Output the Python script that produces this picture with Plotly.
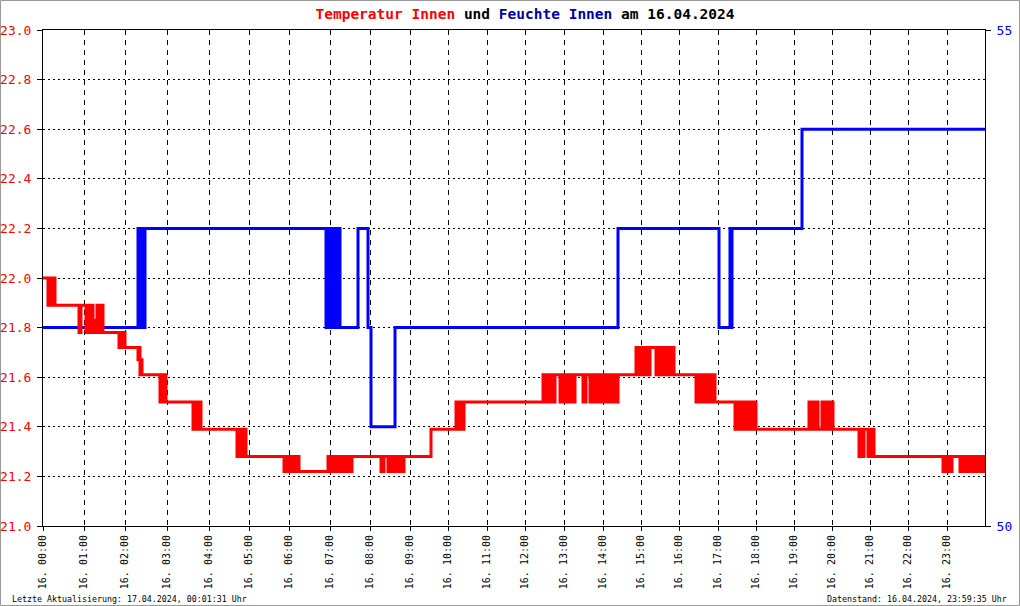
import plotly.graph_objects as go

# ---------------- data ----------------
# x axis: running sample number of the logger (the original chart is sample based)
hour_labels = ["16. %02d:00" % h for h in range(24)]
hour_samples = [0, 41, 82, 124, 166, 206, 246, 287, 327, 367, 405, 444,
                482, 521, 560, 598, 636, 675, 713, 751, 789, 827, 865, 904]
last_sample = 942

# Temperature Innen (deg C), step changes: sample -> value
temp_x = [0,
          5, 6, 7, 8, 10, 11, 12,
          36, 38,
          43, 44, 45, 46, 47, 49, 50, 51, 52, 54, 55, 56, 57, 58, 59, 60,
          76, 77, 78, 79, 80, 81, 82,
          95, 96, 97, 98, 99,
          117, 118, 119, 120, 121, 122, 123,
          150, 151, 152, 153, 154, 155, 156, 157, 158,
          194, 195, 196, 197, 198, 199, 200, 201, 203,
          241, 242, 243, 244, 246, 247, 248, 249, 250, 252, 253, 254, 256,
          285, 286, 287, 288, 289, 290, 291, 292, 293, 294, 295, 297, 298, 299, 300,
          302, 303, 304, 305, 306, 307, 308, 309,
          338, 339, 340, 341, 345, 346, 347, 348, 349, 350, 352, 353, 354, 355,
          356, 357, 358, 359, 360, 361,
          388,
          413, 414, 415, 416, 417, 418, 419, 420, 421,
          500, 501, 502, 503, 504, 505, 506, 507, 508, 509, 510, 511, 512,
          517, 518, 519, 520, 521, 522, 523, 524, 525, 526, 527, 528, 529, 530, 531, 532,
          540, 541, 542, 543, 547, 548, 549, 550, 551, 552,
          555, 556, 557, 558, 559, 560, 561, 562, 563, 564,
          566, 567, 568, 569, 570, 571, 572, 573, 574, 575,
          593, 594, 595, 596, 597, 598, 599, 600, 601, 602, 603, 604, 605, 606, 607,
          613, 614, 615, 616, 617, 618, 619, 620, 621, 622, 623, 624, 625, 626, 627,
          628, 629, 630, 631,
          653, 654, 655, 656, 658, 659, 661, 662, 664, 665, 666, 667, 668, 669, 670,
          671, 672,
          692, 693, 695, 696, 697, 698, 699, 700, 701, 702, 703, 704, 705, 706, 707,
          708, 709, 710, 711, 712, 713,
          766, 767, 768, 769, 770, 771, 772, 773, 774, 775,
          779, 780, 781, 782, 783, 784, 785, 786, 787, 788, 789, 790,
          816, 817, 818, 819, 820, 821, 825, 826, 827, 828, 829, 830, 831,
          900, 901, 902, 903, 904, 905, 906, 907, 908, 909,
          917, 918, 920, 921, 922, 923, 925, 926, 927, 928, 930, 931, 932, 933,
          935, 936, 937, 938, 939, 940, 941, 942]
temp_y = [22.00,
          21.89, 22.00, 21.89, 22.00, 21.89, 22.00, 21.89,
          21.78, 21.89,
          21.78, 21.89, 21.78, 21.89, 21.78, 21.89, 21.78, 21.83, 21.78, 21.89, 21.78,
          21.83, 21.89, 21.78, 21.89, 21.78,
          21.72, 21.78, 21.72, 21.78, 21.72, 21.78, 21.72,
          21.67, 21.72, 21.61, 21.67, 21.61,
          21.50, 21.61, 21.50, 21.61, 21.50, 21.61, 21.50,
          21.39, 21.50, 21.39, 21.50, 21.39, 21.50, 21.39, 21.50, 21.39,
          21.28, 21.39, 21.28, 21.39, 21.28, 21.39, 21.28, 21.39, 21.28,
          21.22, 21.28, 21.22, 21.28, 21.22, 21.28, 21.22, 21.28, 21.22, 21.28, 21.22,
          21.28, 21.22,
          21.28, 21.22, 21.28, 21.22, 21.28, 21.22, 21.28, 21.22, 21.28, 21.22, 21.28,
          21.22, 21.28, 21.22, 21.28,
          21.22, 21.28, 21.22, 21.28, 21.22, 21.28, 21.22, 21.28,
          21.22, 21.28, 21.22, 21.28, 21.22, 21.28, 21.22, 21.28, 21.22, 21.28, 21.22,
          21.28, 21.22, 21.28,
          21.22, 21.28, 21.22, 21.28, 21.22, 21.28,
          21.39,
          21.50, 21.39, 21.50, 21.39, 21.50, 21.39, 21.50, 21.39, 21.50,
          21.61, 21.50, 21.61, 21.50, 21.61, 21.50, 21.61, 21.50, 21.61, 21.50, 21.61,
          21.50, 21.61,
          21.50, 21.61, 21.50, 21.61, 21.50, 21.61, 21.50, 21.61, 21.50, 21.61, 21.50,
          21.61, 21.50, 21.61, 21.50, 21.61,
          21.50, 21.61, 21.50, 21.61, 21.50, 21.61, 21.50, 21.61, 21.50, 21.61,
          21.50, 21.61, 21.50, 21.61, 21.50, 21.61, 21.50, 21.61, 21.50, 21.61,
          21.50, 21.61, 21.50, 21.61, 21.50, 21.61, 21.50, 21.61, 21.50, 21.61,
          21.72, 21.61, 21.72, 21.61, 21.72, 21.61, 21.72, 21.61, 21.72, 21.61, 21.72,
          21.61, 21.72, 21.61, 21.72,
          21.61, 21.72, 21.61, 21.72, 21.61, 21.72, 21.61, 21.72, 21.61, 21.72, 21.61,
          21.72, 21.61, 21.72, 21.61, 21.72, 21.61, 21.72, 21.61,
          21.50, 21.61, 21.50, 21.61, 21.50, 21.61, 21.50, 21.61, 21.50, 21.61, 21.50,
          21.61, 21.50, 21.61, 21.50, 21.61, 21.50,
          21.39, 21.50, 21.39, 21.50, 21.39, 21.50, 21.39, 21.50, 21.39, 21.50, 21.39,
          21.50, 21.39, 21.50, 21.39, 21.50, 21.39, 21.50, 21.39, 21.50, 21.39,
          21.50, 21.39, 21.50, 21.39, 21.50, 21.39, 21.50, 21.39, 21.50, 21.39,
          21.50, 21.39, 21.50, 21.39, 21.50, 21.39, 21.50, 21.39, 21.50, 21.39, 21.50, 21.39,
          21.28, 21.39, 21.28, 21.39, 21.28, 21.39, 21.28, 21.39, 21.28, 21.39, 21.28,
          21.39, 21.28,
          21.22, 21.28, 21.22, 21.28, 21.22, 21.28, 21.22, 21.28, 21.22, 21.28,
          21.22, 21.28, 21.22, 21.28, 21.22, 21.28, 21.22, 21.28, 21.22, 21.28, 21.22,
          21.28, 21.22, 21.28, 21.22, 21.28, 21.22, 21.28, 21.22, 21.28, 21.22, 21.28]

# Feuchte Innen (% rel. humidity), step changes: sample -> value
hum_x = [0,
         95, 96, 97, 98, 99, 101, 102,
         283, 284, 285, 286, 287, 288, 289, 290, 291, 292, 293, 294, 295, 296, 297, 298,
         315, 325, 328, 352, 575, 676, 687, 688, 689, 759, 942]
hum_y = [52,
         53, 52, 53, 52, 53, 52, 53,
         52, 53, 52, 53, 52, 53, 52, 53, 52, 53, 52, 53, 52, 53, 52, 52,
         53, 52, 51, 52, 53, 52, 53, 52, 53, 54, 54]

temp_range = [21.0, 23.0]
hum_range = [50, 55]

# ---------------- figure ----------------
FONT = "DejaVu Sans Mono"
W, H = 1020, 606
ML, MR, MT, MB = 43, 35, 30, 80
PW, PH = W - ML - MR, H - MT - MB

fig = go.Figure()
fig.add_trace(go.Scatter(x=hum_x, y=hum_y, mode="lines", line_shape="hv",
                         line=dict(color="#0000FF", width=3), yaxis="y",
                         name="Feuchte Innen", hoverinfo="skip"))
fig.add_trace(go.Scatter(x=temp_x, y=temp_y, mode="lines", line_shape="hv",
                         line=dict(color="#FF0000", width=3), yaxis="y2",
                         name="Temperatur Innen", hoverinfo="skip"))

fig.update_layout(
    width=W, height=H, autosize=False,
    margin=dict(l=ML, r=MR, t=MT, b=MB, pad=0, autoexpand=False),
    paper_bgcolor="white", plot_bgcolor="white",
    showlegend=False,
    font=dict(family=FONT, color="black"),
    title=dict(
        text=("<b><span style='color:#FF0000'>Temperatur Innen</span> und "
              "<span style='color:#0000A0'>Feuchte Innen</span> am 16.04.2024</b>"),
        font=dict(family=FONT, size=14.5, color="black"),
        xref="container", x=525 / W, xanchor="center",
        yref="container", y=1 - 14 / H, yanchor="middle"),
    xaxis=dict(range=[0, last_sample], tickmode="array", tickvals=hour_samples,
               ticktext=hour_labels, tickangle=-90,
               tickfont=dict(family=FONT, size=10, color="black"),
               ticks="outside", ticklen=4, tickcolor="black",
               showgrid=True, gridcolor="black", gridwidth=1, griddash="5px,5px",
               showline=True, linecolor="black", linewidth=1, mirror=True,
               zeroline=False, fixedrange=True, automargin=False),
    yaxis=dict(range=hum_range, side="right", tickmode="array", tickvals=[50, 55],
               tickfont=dict(family=FONT, size=13, color="#0000FF"),
               ticks="outside", ticklen=5, tickcolor="black", ticklabelstandoff=3,
               showgrid=False, showline=True, linecolor="black", linewidth=1,
               zeroline=False, fixedrange=True, automargin=False),
    yaxis2=dict(range=temp_range, side="left", overlaying="y", dtick=0.2,
                tick0=21.0, tickformat=".1f",
                tickfont=dict(family=FONT, size=13, color="#FF0000"),
                ticks="outside", ticklen=5, tickcolor="black", ticklabelstandoff=3,
                showgrid=True, gridcolor="black", gridwidth=1, griddash="2px,3px",
                showline=True, linecolor="black", linewidth=1,
                zeroline=False, fixedrange=True, automargin=False),
)

# footer texts
foot_y = -(599 - (MT + PH)) / PH
fig.add_annotation(text="Letzte Aktualisierung: 17.04.2024, 00:01:31 Uhr",
                   xref="paper", yref="paper", x=(10 - ML) / PW, y=foot_y,
                   xanchor="left", yanchor="middle", showarrow=False,
                   font=dict(family=FONT, size=8.3, color="black"))
fig.add_annotation(text="Datenstand: 16.04.2024, 23:59:35 Uhr",
                   xref="paper", yref="paper", x=(1009 - ML) / PW, y=foot_y,
                   xanchor="right", yanchor="middle", showarrow=False,
                   font=dict(family=FONT, size=8.3, color="black"))

# grey frame around the whole image
fig.add_shape(type="rect", xref="paper", yref="paper",
              x0=(0.5 - ML) / PW, x1=(W - 0.5 - ML) / PW,
              y0=-(H - 0.5 - MT - PH) / PH, y1=(MT + PH - 0.5) / PH,
              line=dict(color="#999999", width=1), fillcolor="rgba(0,0,0,0)",
              layer="below")

fig.write_html("out.html", config={"responsive": False, "displayModeBar": False},
               post_script="document.body.style.margin='0';"
                           "document.body.style.overflow='hidden';")
